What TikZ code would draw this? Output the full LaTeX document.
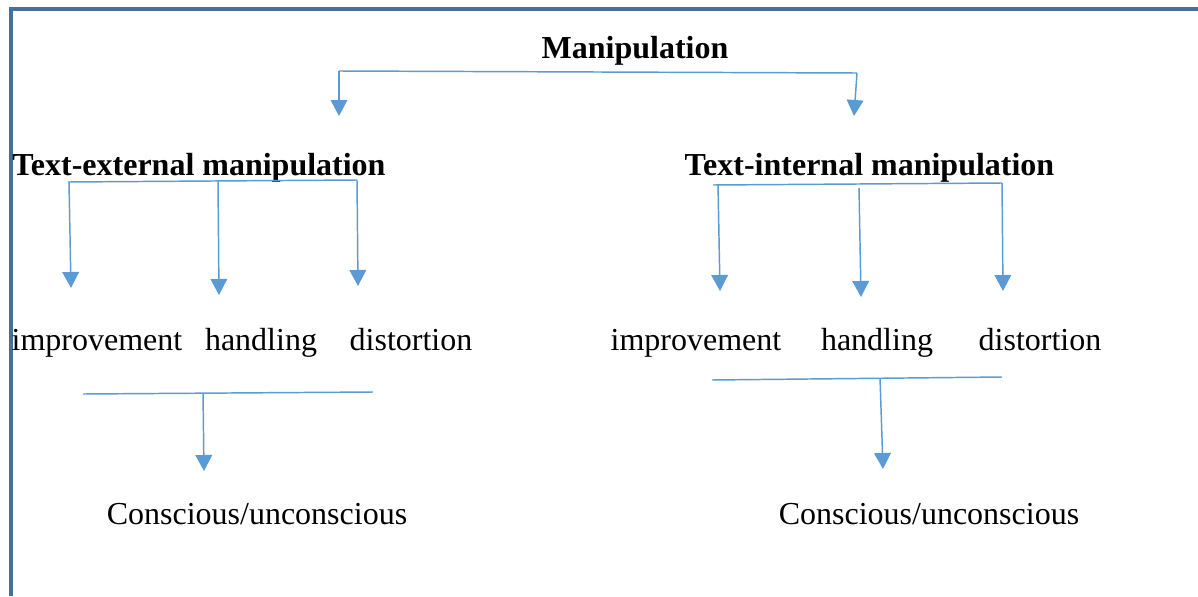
\documentclass[tikz,border=0pt]{standalone}
\usepackage{fontspec}
\setmainfont{Liberation Serif}
\usepackage{xcolor}
\definecolor{LinkBlue}{RGB}{91,155,213}
\definecolor{FrameBlue}{RGB}{65,113,156}
\usepackage{tikz}
\usetikzlibrary{positioning, arrows.meta}

\begin{document}
\begin{tikzpicture}[x=0.75pt, y=-0.75pt,
    every node/.style={font=\fontsize{24}{28}\selectfont, inner sep=0pt, anchor=base},
    title/.style={font=\fontsize{24}{28}\selectfont\bfseries},
    link/.style={LinkBlue, line width=1.1pt},
    drop/.style={link, -{Triangle[length=12pt, width=12.5pt]}}]
	% Marco
	\useasboundingbox (0,0) rectangle (1198,596);
	\draw[FrameBlue, line width=2.4pt] (11,596) -- (11,9) -- (1198,9);
	% Titulos
	\node[title] (manip) at (635,58) {Manipulation};
	\node[title] (ext) at (199,175) {Text-external manipulation};
	\node[title] (int) at (869.5,175) {Text-internal manipulation};
	% Tipos
	\node (ext1) at (97,350) {improvement};
	\node (ext2) at (261,350) {handling};
	\node (ext3) at (411,350) {distortion};
	\node (int1) at (696,350) {improvement};
	\node (int2) at (877,350) {handling};
	\node (int3) at (1040,350) {distortion};
	\node (extc) at (257,524) {Conscious/unconscious};
	\node (intc) at (929,524) {Conscious/unconscious};
	% Puntos de las flechas
	\coordinate (tl) at (339,71);  \coordinate (tla) at (339,116);
	\coordinate (tr) at (857,73);  \coordinate (tra) at (854,116);
	\coordinate (el) at (68,182);  \coordinate (er) at (357,180);
	\coordinate (e1s) at (69,182); \coordinate (e1) at (71,288);
	\coordinate (e2s) at (218,181); \coordinate (e2) at (219,295);
	\coordinate (e3s) at (357,180); \coordinate (e3) at (358,286);
	\coordinate (il) at (713,185); \coordinate (ir) at (1002,183);
	\coordinate (i1s) at (718,184); \coordinate (i1) at (720,291);
	\coordinate (i2s) at (859,188); \coordinate (i2) at (861,297);
	\coordinate (i3s) at (1002,183); \coordinate (i3) at (1003,291);
	\coordinate (cl) at (83,394);  \coordinate (cr) at (373,392);
	\coordinate (cs) at (203,393); \coordinate (ce) at (204,471);
	\coordinate (dl) at (712,380); \coordinate (dr) at (1002,377);
	\coordinate (ds) at (880,378); \coordinate (de) at (883,469);
	% Barras
	\draw[link] (tl) -- (tr);
	\draw[link] (el) -- (er);
	\draw[link] (il) -- (ir);
	\draw[link] (cl) -- (cr);
	\draw[link] (dl) -- (dr);
	% Flechas
	\foreach \a/\b in {tl/tla, tr/tra, e1s/e1, e2s/e2, e3s/e3, i1s/i1, i2s/i2, i3s/i3, cs/ce, ds/de}
		\draw[drop] (\a) -- (\b);
\end{tikzpicture}
\end{document}
